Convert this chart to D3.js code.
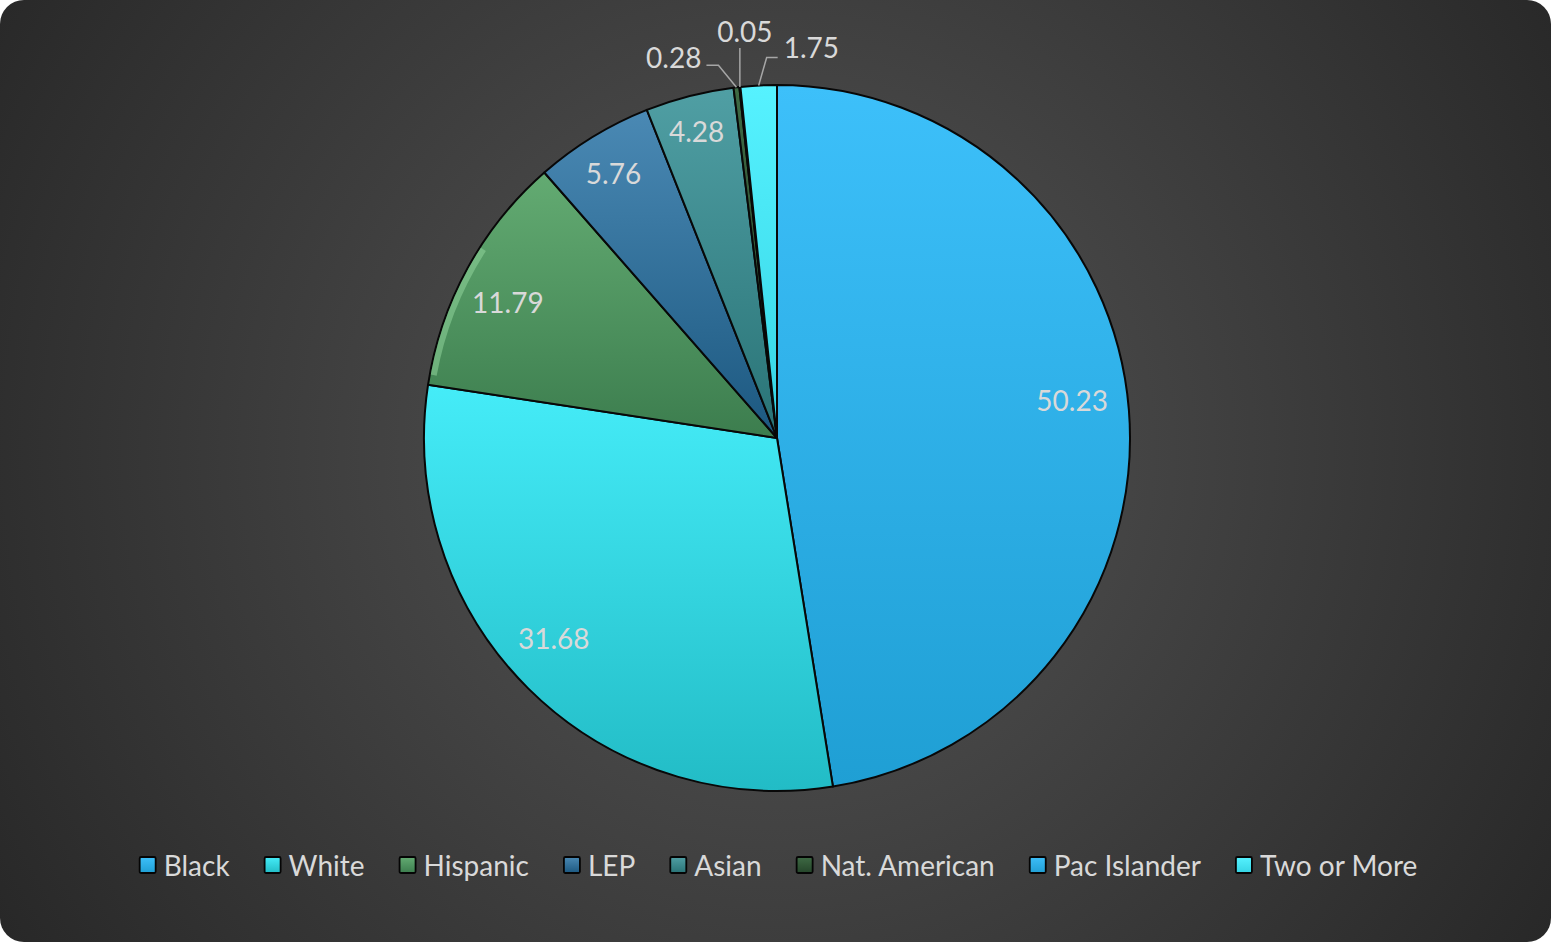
<!DOCTYPE html>
<html>
<head>
<meta charset="utf-8">
<script src="https://cdn.jsdelivr.net/npm/d3@7"></script>
<style>
  html, body { margin: 0; padding: 0; background: #ffffff; }
  svg { display: block; }
  text { font-family: Lato, "Open Sans", sans-serif; fill: #d9d9d9; }
</style>
</head>
<body>
<svg id="chart" width="1551" height="942"></svg>
<script>
// ---- data ----
const categories = ["Black", "White", "Hispanic", "LEP", "Asian", "Nat. American", "Pac Islander", "Two or More"];
const values = [50.23, 31.68, 11.79, 5.76, 4.28, 0.28, 0.05, 1.75];
const valueLabels = ["50.23", "31.68", "11.79", "5.76", "4.28", "0.28", "0.05", "1.75"];
const colorsTop = ["#3dc0fa", "#45ecf8", "#63ab72", "#4a89b4", "#509fa4", "#3e6a44", "#3dbef8", "#56f2ff"];
const colorsBottom = ["#1f9fd4", "#22bcc6", "#3c7d4e", "#1c5880", "#297376", "#25452a", "#219fd4", "#35d4e4"];

// ---- layout ----
const W = 1551, H = 942;
const cx = 777, cy = 438, R = 353;
const svg = d3.select("#chart");
const defs = svg.append("defs");

const bg = defs.append("radialGradient").attr("id", "bg")
  .attr("gradientUnits", "userSpaceOnUse")
  .attr("cx", 777).attr("cy", 450).attr("r", 950);
bg.append("stop").attr("offset", 0).attr("stop-color", "#565656");
bg.append("stop").attr("offset", 1).attr("stop-color", "#262626");

svg.append("rect").attr("x", 0).attr("y", 0).attr("width", W).attr("height", H)
  .attr("rx", 24).attr("ry", 24).attr("fill", "url(#bg)");

categories.forEach((c, i) => {
  const g = defs.append("linearGradient").attr("id", "g" + i)
    .attr("x1", 0).attr("y1", 0).attr("x2", 0).attr("y2", 1);
  g.append("stop").attr("offset", 0).attr("stop-color", colorsTop[i]);
  g.append("stop").attr("offset", 1).attr("stop-color", colorsBottom[i]);
});

const pie = d3.pie().sort(null).value(d => d.v);
const data = pie(values.map((v, i) => ({ v, i, name: categories[i], label: valueLabels[i] })));
const arc = d3.arc().innerRadius(0).outerRadius(R);

const gPie = svg.append("g").attr("transform", `translate(${cx},${cy})`);
gPie.selectAll("path.slice").data(data).enter().append("path")
  .attr("class", "slice")
  .attr("d", arc)
  .attr("fill", d => `url(#g${d.data.i})`)
  .attr("stroke", "#080808")
  .attr("stroke-width", 2)
  .attr("stroke-linejoin", "round");

// subtle light rim on the Hispanic slice (bevel highlight)
const rimArc = d3.arc().innerRadius(R - 7).outerRadius(R - 1);
gPie.append("path")
  .attr("d", rimArc({ startAngle: data[2].startAngle + 0.03, endAngle: data[2].startAngle + 0.42 }))
  .attr("fill", "#8fd49a").attr("opacity", 0.55);

// inner labels (Excel best-fit nudges)
const labelArc = d3.arc().innerRadius(R * 0.85).outerRadius(R * 0.85);
const innerNudge = { 0: [-4, -14], 1: [-12, -13], 2: [-6, 8], 3: [-7, -9], 4: [-6, -16] };
const inner = data.filter(d => innerNudge[d.data.i]);
gPie.selectAll("text.inner").data(inner).enter().append("text")
  .attr("class", "inner")
  .attr("transform", d => {
    const [x, y] = labelArc.centroid(d);
    const n = innerNudge[d.data.i];
    return `translate(${x + n[0]},${y + n[1]})`;
  })
  .attr("text-anchor", "middle")
  .attr("dominant-baseline", "central")
  .attr("font-size", 28)
  .text(d => d.data.label);

// outer labels with leaders (small slices)
const edgeArc = d3.arc().innerRadius(R).outerRadius(R);
const outerLayout = {
  5: { elbow: [-18, -22], run: -12, anchor: "end", dx: -5, dy: -8 },
  6: { elbow: [0, -39], run: 0, anchor: "middle", dx: 5, dy: -17 },
  7: { elbow: [8, -28], run: 11, anchor: "start", dx: 6, dy: -10 }
};
const outer = data.filter(d => outerLayout[d.data.i]);
outer.forEach(d => {
  const L = outerLayout[d.data.i];
  const [ax, ay] = edgeArc.centroid(d);
  const ex = ax + L.elbow[0], ey = ay + L.elbow[1];
  const fx = ex + L.run, fy = ey;
  gPie.append("path")
    .attr("d", d3.line()([[ax, ay], [ex, ey], [fx, fy]]))
    .attr("fill", "none").attr("stroke", "#a6a6a6").attr("stroke-width", 1.5);
  gPie.append("text")
    .attr("x", fx + L.dx).attr("y", fy + L.dy)
    .attr("text-anchor", L.anchor)
    .attr("dominant-baseline", "central")
    .attr("font-size", 28)
    .text(d.data.label);
});

// legend
const legend = svg.append("g");
const sq = 16, gapText = 8, gapItem = 35;
const items = categories.map((c, i) => {
  const g = legend.append("g");
  g.append("rect").attr("x", 0).attr("y", -sq / 2).attr("width", sq).attr("height", sq)
    .attr("rx", 1.5)
    .attr("fill", `url(#g${i})`).attr("stroke", "#050505").attr("stroke-width", 1.8);
  const t = g.append("text").attr("x", sq + gapText).attr("y", 0)
    .attr("dominant-baseline", "central").attr("font-size", 28).text(c);
  const w = sq + gapText + t.node().getComputedTextLength();
  return { g, w };
});
const total = d3.sum(items, d => d.w) + gapItem * (items.length - 1);
let x0 = 778.5 - total / 2;
items.forEach(it => {
  it.g.attr("transform", `translate(${x0},865)`);
  x0 += it.w + gapItem;
});
</script>
</body>
</html>
